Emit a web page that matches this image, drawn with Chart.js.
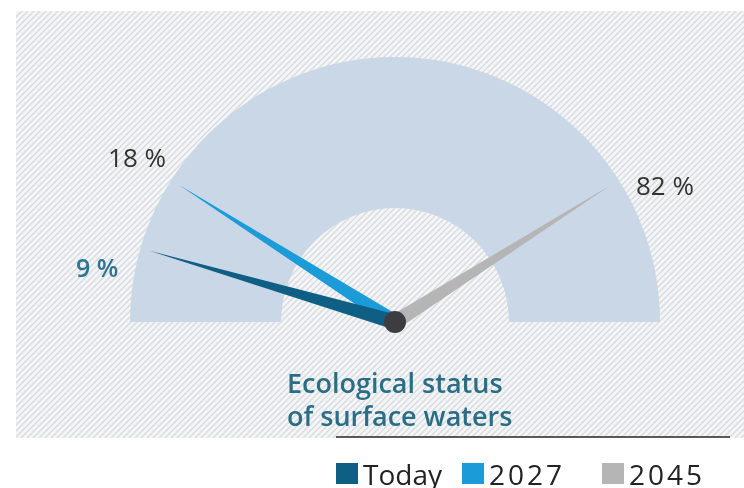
<!DOCTYPE html>
<html>
<head>
<meta charset="utf-8">
<script src="https://cdn.jsdelivr.net/npm/chart.js@4.4.1/dist/chart.umd.min.js"></script>
<style>
  html, body { margin: 0; padding: 0; background: #ffffff; }
  canvas { display: block; }
</style>
</head>
<body>
<canvas id="gauge" width="744" height="488"></canvas>
<script>
// series shown as needles on the half gauge (percent of surface waters in good status)
var series = ['Today', '2027', '2045'];
var shares = [9, 18, 82];
var needleColors = ['#0f5e84', '#1b9bd8', '#b5b5b5'];
var labelColors = ['#2b7493', '#333333', '#333333'];
var gaugeMax = [100];
var title = ['Ecological status', 'of surface waters'];

var FONT = '"Open Sans", "Noto Sans", sans-serif';

// hatched panel behind the gauge
var hatch = {
    id: 'hatch',
    beforeDraw: function (chart) {
        var ctx = chart.ctx;
        var x0 = 16, y0 = 11, x1 = 744, y1 = 438;
        ctx.save();
        ctx.fillStyle = '#f4f5f6';
        ctx.fillRect(x0, y0, x1 - x0, y1 - y0);
        ctx.beginPath();
        ctx.rect(x0, y0, x1 - x0, y1 - y0);
        ctx.clip();
        ctx.strokeStyle = '#d8dbde';
        ctx.lineWidth = 1.4;
        ctx.beginPath();
        for (var x = x0 - (y1 - y0); x < x1; x += 6) {
            ctx.moveTo(x, y1);
            ctx.lineTo(x + (y1 - y0), y0);
        }
        ctx.stroke();
        ctx.restore();
    }
};

// needles, hub, value labels, caption and legend
var needles = {
    id: 'needles',
    afterDatasetsDraw: function (chart) {
        var ctx = chart.ctx;
        var arc = chart.getDatasetMeta(0).data[0];
        var cx = arc.x, cy = arc.y, r = arc.outerRadius;
        var start = arc.startAngle, end = arc.endAngle;
        var len = r * 0.965;
        var half = 7.5;

        ctx.save();
        for (var i = shares.length - 1; i >= 0; i--) {
            var a = start + (end - start) * shares[i] / gaugeMax[0];
            var tx = cx + Math.cos(a) * len, ty = cy + Math.sin(a) * len;
            var px = -Math.sin(a) * half, py = Math.cos(a) * half;
            ctx.fillStyle = needleColors[i];
            ctx.beginPath();
            ctx.moveTo(cx + px, cy + py);
            ctx.lineTo(tx, ty);
            ctx.lineTo(cx - px, cy - py);
            ctx.closePath();
            ctx.fill();

            // value label next to the tip
            ctx.fillStyle = labelColors[i];
            ctx.font = (i === 0 ? '600 25px ' : '400 26px ') + FONT;
            ctx.textBaseline = 'middle';
            var text = shares[i] + ' %';
            if (shares[i] < 12) {
                ctx.textAlign = 'right';
                ctx.fillText(text, tx - 31, ty + 19);
            } else if (shares[i] < 50) {
                ctx.textAlign = 'center';
                ctx.fillText(text, tx - 42, ty - 25);
            } else {
                ctx.textAlign = 'left';
                ctx.fillText(text, tx + 25, ty + 3);
            }
        }
        ctx.fillStyle = '#3d3d3f';
        ctx.beginPath();
        ctx.arc(cx, cy, 11, 0, Math.PI * 2);
        ctx.fill();

        // caption under the gauge
        ctx.fillStyle = '#2a6d86';
        ctx.font = '600 27px ' + FONT;
        ctx.textAlign = 'left';
        ctx.textBaseline = 'alphabetic';
        ctx.fillText(title[0], 287, 393);
        ctx.fillText(title[1], 287, 426);

        // rule above the legend
        ctx.fillStyle = '#58595b';
        ctx.fillRect(336, 436, 394, 2);

        // legend
        ctx.font = '400 28px ' + FONT;
        var legendX = [336, 462, 602];
        for (var j = 0; j < series.length; j++) {
            ctx.fillStyle = needleColors[j];
            ctx.fillRect(legendX[j], 463, 22, 21);
            ctx.fillStyle = '#222222';
            ctx.letterSpacing = /^\d+$/.test(series[j]) ? '3px' : '0px';
            ctx.fillText(series[j], legendX[j] + 27, 485);
        }
        ctx.restore();
    }
};

new Chart(document.getElementById('gauge').getContext('2d'), {
    type: 'doughnut',
    data: {
        labels: ['Ecological status of surface waters'],
        datasets: [{
            data: gaugeMax,
            backgroundColor: '#c9d7e7',
            borderWidth: 0
        }]
    },
    options: {
        responsive: false,
        animation: false,
        rotation: -90,
        circumference: 180,
        cutout: '43%',
        layout: {
            padding: { left: 130, right: 84, top: 57, bottom: 166 }
        },
        plugins: {
            legend: { display: false },
            tooltip: { enabled: false }
        }
    },
    plugins: [hatch, needles]
});
</script>
</body>
</html>
